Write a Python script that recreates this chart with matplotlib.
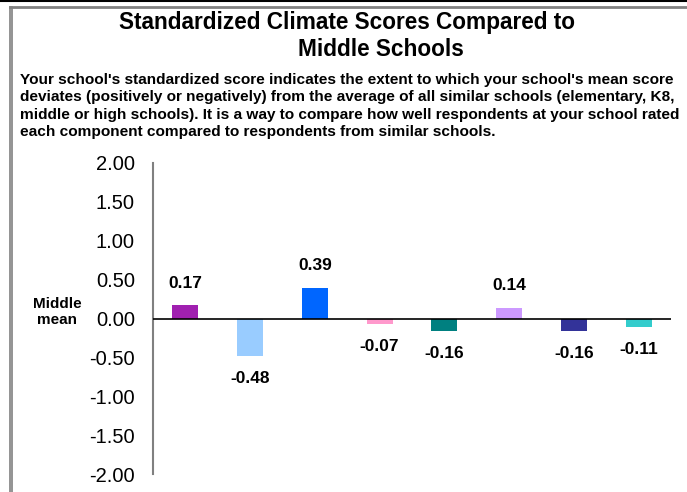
import matplotlib
matplotlib.use("Agg")
import matplotlib.pyplot as plt
from matplotlib.lines import Line2D

plt.rcParams["font.family"] = ["Liberation Sans", "DejaVu Sans"]

# one bar per climate component (component names are not shown in the picture)
SCORES = [0.17, -0.48, 0.39, -0.07, -0.16, 0.14, -0.16, -0.11]
COLORS = ["#A020B0", "#99CCFF", "#0066FF", "#FF99CC",
          "#008080", "#CC99FF", "#333399", "#33CCCC"]
YTICKS = [2.0, 1.5, 1.0, 0.5, 0.0, -0.5, -1.0, -1.5, -2.0]

TITLE1 = "Standardized Climate Scores Compared to"
TITLE2 = "Middle Schools"
SUBTITLE = ("Your school's standardized score indicates the extent to which your school's mean score\n"
            "deviates (positively or negatively) from the average of all similar schools (elementary, K8,\n"
            "middle or high schools). It is a way to compare how well respondents at your school rated\n"
            "each component compared to respondents from similar schools.")

W, H = 687, 492
fig = plt.figure(figsize=(W / 100, H / 100), dpi=100)

# axes placed in pixel terms of the reference
left, right, top, bottom = 153, 671, 163, 474
ax = fig.add_axes([left / W, 1 - bottom / H, (right - left) / W, (bottom - top) / H])

x = range(len(SCORES))
ax.bar(x, SCORES, width=0.4, color=COLORS, zorder=3)
for i, v in enumerate(SCORES):
    off = 16 if v >= 0 else -16
    ax.annotate(f"{v:.2f}", (i, v), xytext=(0, off), textcoords="offset points",
                ha="center", va="center", fontsize=12.5, fontweight="bold")

ax.axhline(0, color="black", lw=1.2, zorder=4)
ax.set_xlim(-0.5, len(SCORES) - 0.5)
ax.set_ylim(-2, 2)
ax.set_yticks(YTICKS)
ax.set_yticklabels([f"{t:.2f}" for t in YTICKS], fontsize=14.5)
ax.tick_params(axis="y", length=0, pad=13)
ax.set_xticks([])
for s in ["top", "right", "bottom"]:
    ax.spines[s].set_visible(False)
ax.spines["left"].set_color("#808080")
ax.spines["left"].set_linewidth(1.5)

fig.text(57 / W, 1 - 312 / H, "Middle\nmean", ha="center", va="center",
         fontsize=11, fontweight="bold", linespacing=1.25)

fig.text(347 / W, 1 - 23 / H, TITLE1, ha="center", va="center",
         fontsize=16.3, fontweight="bold")
fig.text(381 / W, 1 - 50 / H, TITLE2, ha="center", va="center",
         fontsize=16.3, fontweight="bold")
fig.text(20 / W, 1 - 73 / H, SUBTITLE, ha="left", va="top",
         fontsize=11.1, fontweight="bold", linespacing=1.3)

# frame lines of the screenshot
fig.add_artist(Line2D([0, 1], [1 - 0.8 / H, 1 - 0.8 / H], color="black", lw=1.5))
fig.add_artist(Line2D([10 / W, 1], [1 - 7 / H, 1 - 7 / H], color="#808080", lw=2))
fig.add_artist(Line2D([9.5 / W, 9.5 / W], [0, 1 - 7 / H], color="#808080", lw=1.2))
fig.add_artist(Line2D([12 / W, 12 / W], [0, 1 - 7 / H], color="#808080", lw=1.2))

fig.savefig("out.png", dpi=100)
